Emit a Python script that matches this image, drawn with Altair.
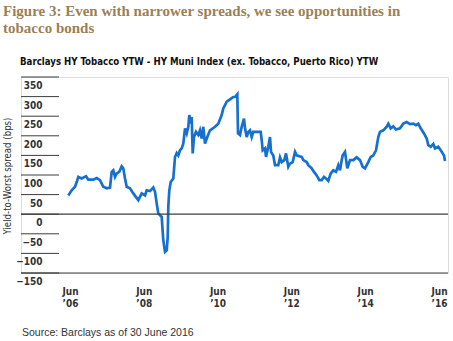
import altair as alt
import pandas as pd

# decimal years and spread values in bps
years = [2006.454, 2006.546, 2006.636, 2006.682, 2006.725, 2006.817, 2006.934, 2006.996, 2007.131, 2007.224,
         2007.313, 2007.402, 2007.495, 2007.584, 2007.630, 2007.673, 2007.720, 2007.766, 2007.836, 2007.901,
         2007.944, 2007.991, 2008.037, 2008.126, 2008.215, 2008.351, 2008.443, 2008.533, 2008.579, 2008.668,
         2008.757, 2008.804, 2008.850, 2008.893, 2008.985, 2009.028, 2009.075, 2009.121, 2009.148, 2009.164,
         2009.191, 2009.229, 2009.299, 2009.346, 2009.392, 2009.435, 2009.481, 2009.527, 2009.570, 2009.617,
         2009.663, 2009.706, 2009.733, 2009.771, 2009.798, 2009.825, 2009.860, 2009.915, 2009.977, 2010.023,
         2010.069, 2010.112, 2010.159, 2010.221, 2010.294, 2010.430, 2010.519, 2010.611, 2010.654, 2010.747,
         2010.836, 2010.925, 2010.972, 2011.034, 2011.053, 2011.107, 2011.153, 2011.215, 2011.243, 2011.289,
         2011.332, 2011.378, 2011.424, 2011.467, 2011.560, 2011.668, 2011.695, 2011.722, 2011.785, 2011.812,
         2011.874, 2011.920, 2011.947, 2012.009, 2012.056, 2012.145, 2012.191, 2012.237, 2012.308, 2012.354,
         2012.416, 2012.462, 2012.535, 2012.598, 2012.644, 2012.714, 2012.779, 2012.823, 2012.915, 2012.958,
         2013.050, 2013.112, 2013.186, 2013.256, 2013.321, 2013.383, 2013.438, 2013.500, 2013.565, 2013.636,
         2013.709, 2013.771, 2013.817, 2013.863, 2013.890, 2013.953, 2014.015, 2014.088, 2014.178, 2014.270,
         2014.359, 2014.432, 2014.495, 2014.584, 2014.649, 2014.720, 2014.793, 2014.855, 2014.901, 2014.991,
         2015.083, 2015.126, 2015.191, 2015.262, 2015.335, 2015.443, 2015.533, 2015.625, 2015.714, 2015.804,
         2015.877, 2015.939, 2016.004, 2016.093, 2016.167, 2016.210, 2016.275, 2016.346, 2016.392, 2016.481,
         2016.573, 2016.636, 2016.663]

spread = [48, 61, 70, 82, 95, 91, 97, 88, 88, 92,
          87, 70, 66, 68, 108, 112, 95, 104, 108, 122,
          117, 91, 70, 66, 53, 36, 53, 48, 61, 59,
          68, 57, 27, 2, -7, -66, -96, -92, -58, 19,
          61, 82, 91, 146, 156, 150, 163, 168, 180, 219,
          206, 223, 253, 231, 248, 155, 197, 210, 202, 214,
          193, 223, 180, 197, 214, 223, 231, 253, 270, 287,
          293, 299, 299, 306, 206, 202, 223, 244, 219, 197,
          210, 214, 197, 210, 210, 210, 189, 163, 168, 146,
          172, 197, 159, 150, 125, 125, 145, 133, 138, 155,
          121, 129, 133, 159, 150, 148, 146, 138, 133, 125,
          117, 108, 99, 87, 87, 95, 91, 85, 104, 112,
          108, 125, 112, 138, 150, 159, 117, 138, 138, 145,
          138, 121, 117, 133, 146, 150, 163, 197, 210, 214,
          223, 231, 219, 224, 216, 219, 231, 235, 230, 231,
          227, 231, 219, 206, 193, 176, 172, 179, 168, 172,
          159, 150, 136]

y_ticks = [350, 300, 250, 200, 150, 100, 50, 0, -50, -100, -150]
x_ticks = [2006.5, 2008.5, 2010.5, 2012.5, 2014.5, 2016.5]
full_lines = [0, -150]

title_lines = ["Figure 3: Even with narrower spreads, we see opportunities in", "tobacco bonds"]
subtitle = "Barclays HY Tobacco YTW - HY Muni Index (ex. Tobacco, Puerto Rico) YTW"
y_title = "Yield-to-Worst spread (bps)"
source = "Source: Barclays as of 30 June 2016"

W, H = 427, 196
COND = "'DejaVu Sans Condensed', 'Liberation Sans', sans-serif"
BLUE = "#1570d0"
GRID = "#3c3c3c"

df = pd.DataFrame({"year": years, "spread": spread})
xscale = alt.Scale(domain=[2005.172, 2016.744], nice=False, zero=False)
yscale = alt.Scale(domain=[-150, 350], nice=False)

yaxis = alt.Axis(values=y_ticks, title=None, domain=False, ticks=False, tickSize=0, grid=False,
                 labelFont=COND, labelFontWeight="bold", labelFontSize=10, labelColor="#333333",
                 labelPadding=0, offset=-21, labelBaseline="top", labelOffset=3.5,
                 labelAlign="right", labelOverlap=False, labelFlush=False, labelBound=False)

base = alt.Chart(df)

line = base.mark_line(color=BLUE, strokeWidth=2.7).encode(
    x=alt.X("year:Q", scale=xscale,
            axis=alt.Axis(values=x_ticks, title=None, domain=False, ticks=False, tickSize=0, grid=False,
                          labelExpr="['Jun', '\u2019' + substring(toString(floor(datum.value)), 2)]",
                          labelFont=COND, labelFontWeight="bold", labelFontSize=10, labelColor="#333333",
                          labelPadding=13, labelLineHeight=12, labelFlush=False, labelOverlap=False)),
    y=alt.Y("spread:Q", scale=yscale, axis=yaxis),
)

short_rules = alt.Chart(pd.DataFrame({"spread": y_ticks})).mark_rule(color=GRID, strokeWidth=1).encode(
    y=alt.Y("spread:Q", scale=yscale, axis=yaxis), x=alt.value(0), x2=alt.value(38))

long_rules = alt.Chart(pd.DataFrame({"spread": full_lines})).mark_rule(color=GRID, strokeWidth=1.2).encode(
    y=alt.Y("spread:Q", scale=yscale, axis=yaxis), x=alt.value(0), x2=alt.value(W))

txt = pd.DataFrame({"k": [0]})
def label(text, x, y, **kw):
    return alt.Chart(txt).mark_text(text=text, align=kw.pop("align", "left"), baseline="alphabetic", **kw).encode(
        x=alt.value(x), y=alt.value(y))

t1 = label(title_lines[0], -18, -61, font="'Liberation Serif', serif", fontWeight="bold", fontSize=15, color="#9d7f55")
t2 = label(title_lines[1], -18, -44, font="'Liberation Serif', serif", fontWeight="bold", fontSize=15, color="#9d7f55")
st = label(subtitle, -1, -12, font=COND, fontWeight="bold", fontSize=9.6, color="#111111")
yt = label(y_title, -10, 99, font="'DejaVu Sans Condensed', 'Liberation Sans', sans-serif", fontSize=9.6,
           color="#333333", angle=270, align="center")
src = label(source, 1, 259, font="'Liberation Sans', sans-serif", fontSize=10.5, color="#333333")

chart = alt.layer(line, short_rules, long_rules, t1, t2, st, yt, src).properties(
    width=W, height=H,
    padding={"left": 21, "top": 77, "right": 5, "bottom": 68},
    autosize=alt.AutoSizeParams(type="none"),
).configure_view(stroke=None).configure(background="white")

chart.save("out.html", embed_options={"renderer": "svg", "actions": False})
